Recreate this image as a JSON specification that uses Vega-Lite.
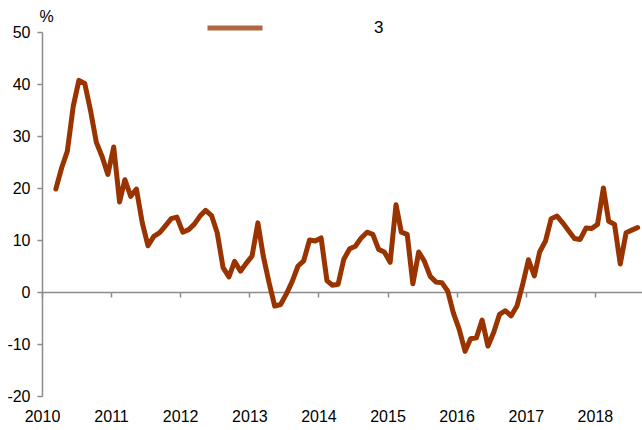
{
  "$schema": "https://vega.github.io/schema/vega-lite/v6.json",
  "width": 600,
  "height": 364,
  "autosize": "none",
  "padding": {"left": 42, "top": 32, "right": 0, "bottom": 34},
  "background": "white",
  "config": {"view": {"stroke": null}, "font": "Liberation Sans"},
  "data": {"values": [
    {"date": "2010-03-15", "value": 19.8, "series": "3"},
    {"date": "2010-04-15", "value": 23.9, "series": "3"},
    {"date": "2010-05-15", "value": 27.1, "series": "3"},
    {"date": "2010-06-15", "value": 35.7, "series": "3"},
    {"date": "2010-07-15", "value": 40.7, "series": "3"},
    {"date": "2010-08-15", "value": 40.1, "series": "3"},
    {"date": "2010-09-15", "value": 34.8, "series": "3"},
    {"date": "2010-10-15", "value": 28.8, "series": "3"},
    {"date": "2010-11-15", "value": 26.0, "series": "3"},
    {"date": "2010-12-15", "value": 22.6, "series": "3"},
    {"date": "2011-01-15", "value": 27.9, "series": "3"},
    {"date": "2011-02-15", "value": 17.3, "series": "3"},
    {"date": "2011-03-15", "value": 21.6, "series": "3"},
    {"date": "2011-04-15", "value": 18.4, "series": "3"},
    {"date": "2011-05-15", "value": 19.8, "series": "3"},
    {"date": "2011-06-15", "value": 13.3, "series": "3"},
    {"date": "2011-07-15", "value": 8.9, "series": "3"},
    {"date": "2011-08-15", "value": 10.7, "series": "3"},
    {"date": "2011-09-15", "value": 11.4, "series": "3"},
    {"date": "2011-10-15", "value": 12.7, "series": "3"},
    {"date": "2011-11-15", "value": 14.1, "series": "3"},
    {"date": "2011-12-15", "value": 14.4, "series": "3"},
    {"date": "2012-01-15", "value": 11.5, "series": "3"},
    {"date": "2012-02-15", "value": 12.0, "series": "3"},
    {"date": "2012-03-15", "value": 13.0, "series": "3"},
    {"date": "2012-04-15", "value": 14.6, "series": "3"},
    {"date": "2012-05-15", "value": 15.7, "series": "3"},
    {"date": "2012-06-15", "value": 14.7, "series": "3"},
    {"date": "2012-07-15", "value": 11.4, "series": "3"},
    {"date": "2012-08-15", "value": 4.7, "series": "3"},
    {"date": "2012-09-15", "value": 2.9, "series": "3"},
    {"date": "2012-10-15", "value": 5.9, "series": "3"},
    {"date": "2012-11-15", "value": 4.0, "series": "3"},
    {"date": "2012-12-15", "value": 5.5, "series": "3"},
    {"date": "2013-01-15", "value": 6.9, "series": "3"},
    {"date": "2013-02-15", "value": 13.3, "series": "3"},
    {"date": "2013-03-15", "value": 7.0, "series": "3"},
    {"date": "2013-04-15", "value": 1.8, "series": "3"},
    {"date": "2013-05-15", "value": -2.7, "series": "3"},
    {"date": "2013-06-15", "value": -2.4, "series": "3"},
    {"date": "2013-07-15", "value": -0.4, "series": "3"},
    {"date": "2013-08-15", "value": 2.0, "series": "3"},
    {"date": "2013-09-15", "value": 5.0, "series": "3"},
    {"date": "2013-10-15", "value": 6.0, "series": "3"},
    {"date": "2013-11-15", "value": 10.0, "series": "3"},
    {"date": "2013-12-15", "value": 9.8, "series": "3"},
    {"date": "2014-01-15", "value": 10.4, "series": "3"},
    {"date": "2014-02-15", "value": 2.2, "series": "3"},
    {"date": "2014-03-15", "value": 1.3, "series": "3"},
    {"date": "2014-04-15", "value": 1.5, "series": "3"},
    {"date": "2014-05-15", "value": 6.3, "series": "3"},
    {"date": "2014-06-15", "value": 8.3, "series": "3"},
    {"date": "2014-07-15", "value": 8.8, "series": "3"},
    {"date": "2014-08-15", "value": 10.4, "series": "3"},
    {"date": "2014-09-15", "value": 11.5, "series": "3"},
    {"date": "2014-10-15", "value": 11.1, "series": "3"},
    {"date": "2014-11-15", "value": 8.2, "series": "3"},
    {"date": "2014-12-15", "value": 7.7, "series": "3"},
    {"date": "2015-01-15", "value": 5.7, "series": "3"},
    {"date": "2015-02-15", "value": 16.8, "series": "3"},
    {"date": "2015-03-15", "value": 11.5, "series": "3"},
    {"date": "2015-04-15", "value": 11.1, "series": "3"},
    {"date": "2015-05-15", "value": 1.6, "series": "3"},
    {"date": "2015-06-15", "value": 7.7, "series": "3"},
    {"date": "2015-07-15", "value": 5.9, "series": "3"},
    {"date": "2015-08-15", "value": 3.0, "series": "3"},
    {"date": "2015-09-15", "value": 1.9, "series": "3"},
    {"date": "2015-10-15", "value": 1.8, "series": "3"},
    {"date": "2015-11-15", "value": 0.2, "series": "3"},
    {"date": "2015-12-15", "value": -4.0, "series": "3"},
    {"date": "2016-01-15", "value": -7.2, "series": "3"},
    {"date": "2016-02-15", "value": -11.4, "series": "3"},
    {"date": "2016-03-15", "value": -9.0, "series": "3"},
    {"date": "2016-04-15", "value": -8.8, "series": "3"},
    {"date": "2016-05-15", "value": -5.4, "series": "3"},
    {"date": "2016-06-15", "value": -10.4, "series": "3"},
    {"date": "2016-07-15", "value": -7.8, "series": "3"},
    {"date": "2016-08-15", "value": -4.3, "series": "3"},
    {"date": "2016-09-15", "value": -3.6, "series": "3"},
    {"date": "2016-10-15", "value": -4.6, "series": "3"},
    {"date": "2016-11-15", "value": -2.7, "series": "3"},
    {"date": "2016-12-15", "value": 1.4, "series": "3"},
    {"date": "2017-01-15", "value": 6.2, "series": "3"},
    {"date": "2017-02-15", "value": 3.1, "series": "3"},
    {"date": "2017-03-15", "value": 7.7, "series": "3"},
    {"date": "2017-04-15", "value": 9.8, "series": "3"},
    {"date": "2017-05-15", "value": 14.1, "series": "3"},
    {"date": "2017-06-15", "value": 14.6, "series": "3"},
    {"date": "2017-07-15", "value": 13.3, "series": "3"},
    {"date": "2017-08-15", "value": 11.8, "series": "3"},
    {"date": "2017-09-15", "value": 10.3, "series": "3"},
    {"date": "2017-10-15", "value": 10.1, "series": "3"},
    {"date": "2017-11-15", "value": 12.3, "series": "3"},
    {"date": "2017-12-15", "value": 12.2, "series": "3"},
    {"date": "2018-01-15", "value": 13.0, "series": "3"},
    {"date": "2018-02-15", "value": 20.0, "series": "3"},
    {"date": "2018-03-15", "value": 13.6, "series": "3"},
    {"date": "2018-04-15", "value": 13.0, "series": "3"},
    {"date": "2018-05-15", "value": 5.4, "series": "3"},
    {"date": "2018-06-15", "value": 11.4, "series": "3"},
    {"date": "2018-07-15", "value": 11.9, "series": "3"},
    {"date": "2018-08-15", "value": 12.4, "series": "3"}
  ]},
  "mark": {"type": "line", "strokeWidth": 5, "strokeJoin": "round", "strokeCap": "round", "clip": false},
  "encoding": {
    "x": {
      "field": "date",
      "type": "temporal",
      "scale": {"domain": [{"year": 2010, "month": 1, "date": 1}, {"year": 2018, "month": 9, "date": 7}]},
      "axis": {
        "values": [{"year": 2010, "month": 1, "date": 1}, {"year": 2011, "month": 1, "date": 1}, {"year": 2012, "month": 1, "date": 1}, {"year": 2013, "month": 1, "date": 1}, {"year": 2014, "month": 1, "date": 1}, {"year": 2015, "month": 1, "date": 1}, {"year": 2016, "month": 1, "date": 1}, {"year": 2017, "month": 1, "date": 1}, {"year": 2018, "month": 1, "date": 1}],
        "format": "%Y",
        "title": null,
        "offset": -104,
        "grid": false,
        "domainColor": "#8c8c8c",
        "domainWidth": 1.5,
        "tickColor": "#8c8c8c",
        "tickWidth": 1.5,
        "tickSize": 5,
        "labelPadding": 111,
        "labelFontSize": 16,
        "labelColor": "#000000",
        "labelFlush": false,
        "labelOverlap": false
      }
    },
    "y": {
      "field": "value",
      "type": "quantitative",
      "scale": {"domain": [-20, 50], "nice": false, "zero": false},
      "axis": {
        "values": [-20, -10, 0, 10, 20, 30, 40, 50],
        "labelExpr": "'' + datum.value",
        "title": "%",
        "titleAngle": 0,
        "titleAlign": "center",
        "titleBaseline": "alphabetic",
        "titleX": 4,
        "titleY": -11,
        "titleFontSize": 16,
        "titleFontWeight": "normal",
        "titleColor": "#000000",
        "grid": false,
        "domainColor": "#8c8c8c",
        "domainWidth": 1.5,
        "tickColor": "#8c8c8c",
        "tickWidth": 1.5,
        "tickSize": 5,
        "labelPadding": 7,
        "labelFontSize": 16,
        "labelColor": "#000000"
      }
    },
    "color": {
      "field": "series",
      "type": "nominal",
      "scale": {"range": ["#993300"]},
      "legend": {
        "orient": "none",
        "legendX": 163,
        "legendY": -34,
        "title": null,
        "padding": 0,
        "symbolType": "stroke",
        "symbolSize": 3025,
        "symbolStrokeWidth": 5,
        "symbolOpacity": 0.75,
        "labelOffset": 109,
        "labelFontSize": 17,
        "labelColor": "#000000"
      }
    }
  }
}
